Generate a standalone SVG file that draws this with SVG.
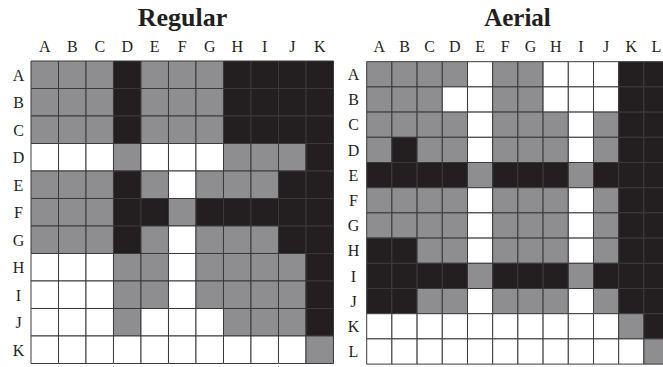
<svg xmlns="http://www.w3.org/2000/svg" width="663" height="367" viewBox="0 0 663 367">
<style>
rect{stroke:#3a3a3a;stroke-width:1;vector-effect:non-scaling-stroke}
.g{fill:#8e8e90}
.b{fill:#231f20}
.w{fill:#ffffff}
.t{font-family:"Liberation Serif","Times New Roman",serif;font-weight:bold;font-size:26px;fill:#231f20;text-anchor:middle}
.l{font-family:"Liberation Serif","Times New Roman",serif;font-size:16px;fill:#231f20;text-anchor:middle}
</style>
<rect x="0" y="0" width="663" height="367" fill="#ffffff" style="stroke:none"/>
<g id="regular">
<text class="t" x="182.5" y="26">Regular</text>
<g id="regular-cols">
<text class="l" x="44.75" y="52">A</text><text class="l" x="72.25" y="52">B</text><text class="l" x="99.75" y="52">C</text><text class="l" x="127.25" y="52">D</text><text class="l" x="154.75" y="52">E</text><text class="l" x="182.25" y="52">F</text><text class="l" x="209.75" y="52">G</text><text class="l" x="237.25" y="52">H</text><text class="l" x="264.75" y="52">I</text><text class="l" x="292.25" y="52">J</text><text class="l" x="319.75" y="52">K</text>
</g>
<g id="regular-rows">
<text class="l" x="18.5" y="80.5">A</text><text class="l" x="18.5" y="108">B</text><text class="l" x="18.5" y="135.5">C</text><text class="l" x="18.5" y="163">D</text><text class="l" x="18.5" y="190.5">E</text><text class="l" x="18.5" y="218">F</text><text class="l" x="18.5" y="245.5">G</text><text class="l" x="18.5" y="273">H</text><text class="l" x="18.5" y="300.5">I</text><text class="l" x="18.5" y="328">J</text><text class="l" x="18.5" y="355.5">K</text>
</g>
<g id="regular-grid" transform="translate(31 61) scale(27.5)">
<rect class="g" x="0" y="0" width="1" height="1"/><rect class="g" x="1" y="0" width="1" height="1"/><rect class="g" x="2" y="0" width="1" height="1"/><rect class="b" x="3" y="0" width="1" height="1"/><rect class="g" x="4" y="0" width="1" height="1"/><rect class="g" x="5" y="0" width="1" height="1"/><rect class="g" x="6" y="0" width="1" height="1"/><rect class="b" x="7" y="0" width="1" height="1"/><rect class="b" x="8" y="0" width="1" height="1"/><rect class="b" x="9" y="0" width="1" height="1"/><rect class="b" x="10" y="0" width="1" height="1"/>
<rect class="g" x="0" y="1" width="1" height="1"/><rect class="g" x="1" y="1" width="1" height="1"/><rect class="g" x="2" y="1" width="1" height="1"/><rect class="b" x="3" y="1" width="1" height="1"/><rect class="g" x="4" y="1" width="1" height="1"/><rect class="g" x="5" y="1" width="1" height="1"/><rect class="g" x="6" y="1" width="1" height="1"/><rect class="b" x="7" y="1" width="1" height="1"/><rect class="b" x="8" y="1" width="1" height="1"/><rect class="b" x="9" y="1" width="1" height="1"/><rect class="b" x="10" y="1" width="1" height="1"/>
<rect class="g" x="0" y="2" width="1" height="1"/><rect class="g" x="1" y="2" width="1" height="1"/><rect class="g" x="2" y="2" width="1" height="1"/><rect class="b" x="3" y="2" width="1" height="1"/><rect class="g" x="4" y="2" width="1" height="1"/><rect class="g" x="5" y="2" width="1" height="1"/><rect class="g" x="6" y="2" width="1" height="1"/><rect class="b" x="7" y="2" width="1" height="1"/><rect class="b" x="8" y="2" width="1" height="1"/><rect class="b" x="9" y="2" width="1" height="1"/><rect class="b" x="10" y="2" width="1" height="1"/>
<rect class="w" x="0" y="3" width="1" height="1"/><rect class="w" x="1" y="3" width="1" height="1"/><rect class="w" x="2" y="3" width="1" height="1"/><rect class="g" x="3" y="3" width="1" height="1"/><rect class="w" x="4" y="3" width="1" height="1"/><rect class="w" x="5" y="3" width="1" height="1"/><rect class="w" x="6" y="3" width="1" height="1"/><rect class="g" x="7" y="3" width="1" height="1"/><rect class="g" x="8" y="3" width="1" height="1"/><rect class="g" x="9" y="3" width="1" height="1"/><rect class="b" x="10" y="3" width="1" height="1"/>
<rect class="g" x="0" y="4" width="1" height="1"/><rect class="g" x="1" y="4" width="1" height="1"/><rect class="g" x="2" y="4" width="1" height="1"/><rect class="b" x="3" y="4" width="1" height="1"/><rect class="g" x="4" y="4" width="1" height="1"/><rect class="w" x="5" y="4" width="1" height="1"/><rect class="g" x="6" y="4" width="1" height="1"/><rect class="g" x="7" y="4" width="1" height="1"/><rect class="g" x="8" y="4" width="1" height="1"/><rect class="b" x="9" y="4" width="1" height="1"/><rect class="b" x="10" y="4" width="1" height="1"/>
<rect class="g" x="0" y="5" width="1" height="1"/><rect class="g" x="1" y="5" width="1" height="1"/><rect class="g" x="2" y="5" width="1" height="1"/><rect class="b" x="3" y="5" width="1" height="1"/><rect class="b" x="4" y="5" width="1" height="1"/><rect class="g" x="5" y="5" width="1" height="1"/><rect class="b" x="6" y="5" width="1" height="1"/><rect class="b" x="7" y="5" width="1" height="1"/><rect class="b" x="8" y="5" width="1" height="1"/><rect class="b" x="9" y="5" width="1" height="1"/><rect class="b" x="10" y="5" width="1" height="1"/>
<rect class="g" x="0" y="6" width="1" height="1"/><rect class="g" x="1" y="6" width="1" height="1"/><rect class="g" x="2" y="6" width="1" height="1"/><rect class="b" x="3" y="6" width="1" height="1"/><rect class="g" x="4" y="6" width="1" height="1"/><rect class="w" x="5" y="6" width="1" height="1"/><rect class="g" x="6" y="6" width="1" height="1"/><rect class="g" x="7" y="6" width="1" height="1"/><rect class="g" x="8" y="6" width="1" height="1"/><rect class="b" x="9" y="6" width="1" height="1"/><rect class="b" x="10" y="6" width="1" height="1"/>
<rect class="w" x="0" y="7" width="1" height="1"/><rect class="w" x="1" y="7" width="1" height="1"/><rect class="w" x="2" y="7" width="1" height="1"/><rect class="g" x="3" y="7" width="1" height="1"/><rect class="g" x="4" y="7" width="1" height="1"/><rect class="w" x="5" y="7" width="1" height="1"/><rect class="g" x="6" y="7" width="1" height="1"/><rect class="g" x="7" y="7" width="1" height="1"/><rect class="g" x="8" y="7" width="1" height="1"/><rect class="g" x="9" y="7" width="1" height="1"/><rect class="b" x="10" y="7" width="1" height="1"/>
<rect class="w" x="0" y="8" width="1" height="1"/><rect class="w" x="1" y="8" width="1" height="1"/><rect class="w" x="2" y="8" width="1" height="1"/><rect class="g" x="3" y="8" width="1" height="1"/><rect class="g" x="4" y="8" width="1" height="1"/><rect class="w" x="5" y="8" width="1" height="1"/><rect class="g" x="6" y="8" width="1" height="1"/><rect class="g" x="7" y="8" width="1" height="1"/><rect class="g" x="8" y="8" width="1" height="1"/><rect class="g" x="9" y="8" width="1" height="1"/><rect class="b" x="10" y="8" width="1" height="1"/>
<rect class="w" x="0" y="9" width="1" height="1"/><rect class="w" x="1" y="9" width="1" height="1"/><rect class="w" x="2" y="9" width="1" height="1"/><rect class="g" x="3" y="9" width="1" height="1"/><rect class="w" x="4" y="9" width="1" height="1"/><rect class="w" x="5" y="9" width="1" height="1"/><rect class="w" x="6" y="9" width="1" height="1"/><rect class="g" x="7" y="9" width="1" height="1"/><rect class="g" x="8" y="9" width="1" height="1"/><rect class="g" x="9" y="9" width="1" height="1"/><rect class="b" x="10" y="9" width="1" height="1"/>
<rect class="w" x="0" y="10" width="1" height="1"/><rect class="w" x="1" y="10" width="1" height="1"/><rect class="w" x="2" y="10" width="1" height="1"/><rect class="w" x="3" y="10" width="1" height="1"/><rect class="w" x="4" y="10" width="1" height="1"/><rect class="w" x="5" y="10" width="1" height="1"/><rect class="w" x="6" y="10" width="1" height="1"/><rect class="w" x="7" y="10" width="1" height="1"/><rect class="w" x="8" y="10" width="1" height="1"/><rect class="w" x="9" y="10" width="1" height="1"/><rect class="g" x="10" y="10" width="1" height="1"/>
</g>
</g>
<g id="aerial">
<text class="t" x="517.5" y="26" style="font-size:25px">Aerial</text>
<g id="aerial-cols">
<text class="l" x="379.3" y="52">A</text><text class="l" x="404.5" y="52">B</text><text class="l" x="429.7" y="52">C</text><text class="l" x="454.9" y="52">D</text><text class="l" x="480.1" y="52">E</text><text class="l" x="505.3" y="52">F</text><text class="l" x="530.5" y="52">G</text><text class="l" x="555.7" y="52">H</text><text class="l" x="580.9" y="52">I</text><text class="l" x="606.1" y="52">J</text><text class="l" x="631.3" y="52">K</text><text class="l" x="656.5" y="52">L</text>
</g>
<g id="aerial-rows">
<text class="l" x="353.5" y="80">A</text><text class="l" x="353.5" y="105.2">B</text><text class="l" x="353.5" y="130.4">C</text><text class="l" x="353.5" y="155.6">D</text><text class="l" x="353.5" y="180.8">E</text><text class="l" x="353.5" y="206">F</text><text class="l" x="353.5" y="231.2">G</text><text class="l" x="353.5" y="256.4">H</text><text class="l" x="353.5" y="281.6">I</text><text class="l" x="353.5" y="306.8">J</text><text class="l" x="353.5" y="332">K</text><text class="l" x="353.5" y="357.2">L</text>
</g>
<g id="aerial-grid" transform="translate(366.7 61.7) scale(25.2)">
<rect class="g" x="0" y="0" width="1" height="1"/><rect class="g" x="1" y="0" width="1" height="1"/><rect class="g" x="2" y="0" width="1" height="1"/><rect class="g" x="3" y="0" width="1" height="1"/><rect class="w" x="4" y="0" width="1" height="1"/><rect class="g" x="5" y="0" width="1" height="1"/><rect class="g" x="6" y="0" width="1" height="1"/><rect class="w" x="7" y="0" width="1" height="1"/><rect class="w" x="8" y="0" width="1" height="1"/><rect class="w" x="9" y="0" width="1" height="1"/><rect class="b" x="10" y="0" width="1" height="1"/><rect class="b" x="11" y="0" width="1" height="1"/>
<rect class="g" x="0" y="1" width="1" height="1"/><rect class="g" x="1" y="1" width="1" height="1"/><rect class="g" x="2" y="1" width="1" height="1"/><rect class="w" x="3" y="1" width="1" height="1"/><rect class="w" x="4" y="1" width="1" height="1"/><rect class="g" x="5" y="1" width="1" height="1"/><rect class="g" x="6" y="1" width="1" height="1"/><rect class="w" x="7" y="1" width="1" height="1"/><rect class="w" x="8" y="1" width="1" height="1"/><rect class="w" x="9" y="1" width="1" height="1"/><rect class="b" x="10" y="1" width="1" height="1"/><rect class="b" x="11" y="1" width="1" height="1"/>
<rect class="g" x="0" y="2" width="1" height="1"/><rect class="g" x="1" y="2" width="1" height="1"/><rect class="g" x="2" y="2" width="1" height="1"/><rect class="g" x="3" y="2" width="1" height="1"/><rect class="w" x="4" y="2" width="1" height="1"/><rect class="g" x="5" y="2" width="1" height="1"/><rect class="g" x="6" y="2" width="1" height="1"/><rect class="g" x="7" y="2" width="1" height="1"/><rect class="w" x="8" y="2" width="1" height="1"/><rect class="g" x="9" y="2" width="1" height="1"/><rect class="b" x="10" y="2" width="1" height="1"/><rect class="b" x="11" y="2" width="1" height="1"/>
<rect class="g" x="0" y="3" width="1" height="1"/><rect class="b" x="1" y="3" width="1" height="1"/><rect class="g" x="2" y="3" width="1" height="1"/><rect class="g" x="3" y="3" width="1" height="1"/><rect class="w" x="4" y="3" width="1" height="1"/><rect class="g" x="5" y="3" width="1" height="1"/><rect class="g" x="6" y="3" width="1" height="1"/><rect class="g" x="7" y="3" width="1" height="1"/><rect class="w" x="8" y="3" width="1" height="1"/><rect class="g" x="9" y="3" width="1" height="1"/><rect class="b" x="10" y="3" width="1" height="1"/><rect class="b" x="11" y="3" width="1" height="1"/>
<rect class="b" x="0" y="4" width="1" height="1"/><rect class="b" x="1" y="4" width="1" height="1"/><rect class="b" x="2" y="4" width="1" height="1"/><rect class="b" x="3" y="4" width="1" height="1"/><rect class="g" x="4" y="4" width="1" height="1"/><rect class="b" x="5" y="4" width="1" height="1"/><rect class="b" x="6" y="4" width="1" height="1"/><rect class="b" x="7" y="4" width="1" height="1"/><rect class="g" x="8" y="4" width="1" height="1"/><rect class="b" x="9" y="4" width="1" height="1"/><rect class="b" x="10" y="4" width="1" height="1"/><rect class="b" x="11" y="4" width="1" height="1"/>
<rect class="g" x="0" y="5" width="1" height="1"/><rect class="g" x="1" y="5" width="1" height="1"/><rect class="g" x="2" y="5" width="1" height="1"/><rect class="g" x="3" y="5" width="1" height="1"/><rect class="w" x="4" y="5" width="1" height="1"/><rect class="g" x="5" y="5" width="1" height="1"/><rect class="g" x="6" y="5" width="1" height="1"/><rect class="g" x="7" y="5" width="1" height="1"/><rect class="w" x="8" y="5" width="1" height="1"/><rect class="g" x="9" y="5" width="1" height="1"/><rect class="b" x="10" y="5" width="1" height="1"/><rect class="b" x="11" y="5" width="1" height="1"/>
<rect class="g" x="0" y="6" width="1" height="1"/><rect class="g" x="1" y="6" width="1" height="1"/><rect class="g" x="2" y="6" width="1" height="1"/><rect class="g" x="3" y="6" width="1" height="1"/><rect class="w" x="4" y="6" width="1" height="1"/><rect class="g" x="5" y="6" width="1" height="1"/><rect class="g" x="6" y="6" width="1" height="1"/><rect class="g" x="7" y="6" width="1" height="1"/><rect class="w" x="8" y="6" width="1" height="1"/><rect class="g" x="9" y="6" width="1" height="1"/><rect class="b" x="10" y="6" width="1" height="1"/><rect class="b" x="11" y="6" width="1" height="1"/>
<rect class="b" x="0" y="7" width="1" height="1"/><rect class="b" x="1" y="7" width="1" height="1"/><rect class="g" x="2" y="7" width="1" height="1"/><rect class="g" x="3" y="7" width="1" height="1"/><rect class="w" x="4" y="7" width="1" height="1"/><rect class="g" x="5" y="7" width="1" height="1"/><rect class="g" x="6" y="7" width="1" height="1"/><rect class="g" x="7" y="7" width="1" height="1"/><rect class="w" x="8" y="7" width="1" height="1"/><rect class="g" x="9" y="7" width="1" height="1"/><rect class="b" x="10" y="7" width="1" height="1"/><rect class="b" x="11" y="7" width="1" height="1"/>
<rect class="b" x="0" y="8" width="1" height="1"/><rect class="b" x="1" y="8" width="1" height="1"/><rect class="b" x="2" y="8" width="1" height="1"/><rect class="b" x="3" y="8" width="1" height="1"/><rect class="g" x="4" y="8" width="1" height="1"/><rect class="b" x="5" y="8" width="1" height="1"/><rect class="b" x="6" y="8" width="1" height="1"/><rect class="b" x="7" y="8" width="1" height="1"/><rect class="g" x="8" y="8" width="1" height="1"/><rect class="b" x="9" y="8" width="1" height="1"/><rect class="b" x="10" y="8" width="1" height="1"/><rect class="b" x="11" y="8" width="1" height="1"/>
<rect class="b" x="0" y="9" width="1" height="1"/><rect class="b" x="1" y="9" width="1" height="1"/><rect class="g" x="2" y="9" width="1" height="1"/><rect class="g" x="3" y="9" width="1" height="1"/><rect class="w" x="4" y="9" width="1" height="1"/><rect class="g" x="5" y="9" width="1" height="1"/><rect class="g" x="6" y="9" width="1" height="1"/><rect class="g" x="7" y="9" width="1" height="1"/><rect class="w" x="8" y="9" width="1" height="1"/><rect class="g" x="9" y="9" width="1" height="1"/><rect class="b" x="10" y="9" width="1" height="1"/><rect class="b" x="11" y="9" width="1" height="1"/>
<rect class="w" x="0" y="10" width="1" height="1"/><rect class="w" x="1" y="10" width="1" height="1"/><rect class="w" x="2" y="10" width="1" height="1"/><rect class="w" x="3" y="10" width="1" height="1"/><rect class="w" x="4" y="10" width="1" height="1"/><rect class="w" x="5" y="10" width="1" height="1"/><rect class="w" x="6" y="10" width="1" height="1"/><rect class="w" x="7" y="10" width="1" height="1"/><rect class="w" x="8" y="10" width="1" height="1"/><rect class="w" x="9" y="10" width="1" height="1"/><rect class="g" x="10" y="10" width="1" height="1"/><rect class="b" x="11" y="10" width="1" height="1"/>
<rect class="w" x="0" y="11" width="1" height="1"/><rect class="w" x="1" y="11" width="1" height="1"/><rect class="w" x="2" y="11" width="1" height="1"/><rect class="w" x="3" y="11" width="1" height="1"/><rect class="w" x="4" y="11" width="1" height="1"/><rect class="w" x="5" y="11" width="1" height="1"/><rect class="w" x="6" y="11" width="1" height="1"/><rect class="w" x="7" y="11" width="1" height="1"/><rect class="w" x="8" y="11" width="1" height="1"/><rect class="w" x="9" y="11" width="1" height="1"/><rect class="w" x="10" y="11" width="1" height="1"/><rect class="g" x="11" y="11" width="1" height="1"/>
</g>
</g>
</svg>
